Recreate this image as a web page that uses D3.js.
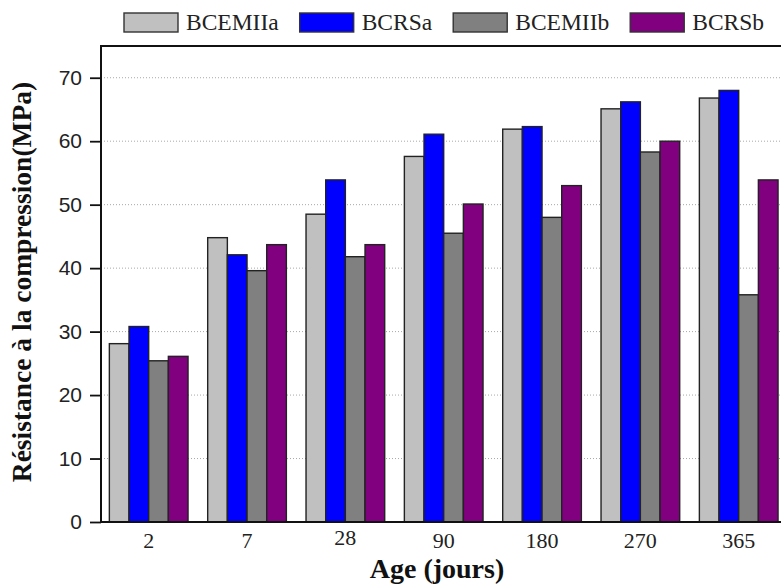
<!DOCTYPE html>
<html>
<head>
<meta charset="utf-8">
<script src="https://cdn.jsdelivr.net/npm/d3@7"></script>
<style>
  html, body { margin: 0; padding: 0; background: #fff; }
  svg { display: block; }
</style>
</head>
<body>
<svg id="chart" width="781" height="586"></svg>
<script>
// ---- data ----
const categories = ["2", "7", "28", "90", "180", "270", "365"];
const seriesNames = ["BCEMIIa", "BCRSa", "BCEMIIb", "BCRSb"];
const BCEMIIa = [28.1, 44.8, 48.5, 57.6, 61.9, 65.1, 66.8];
const BCRSa   = [30.8, 42.1, 53.9, 61.1, 62.3, 66.2, 68.0];
const BCEMIIb = [25.4, 39.6, 41.8, 45.5, 48.0, 58.3, 35.8];
const BCRSb   = [26.1, 43.7, 43.7, 50.1, 53.0, 60.0, 53.9];
const yTicks = [0, 10, 20, 30, 40, 50, 60, 70];
const seriesColors = ["#c0c0c0", "#0000ff", "#808080", "#800080"];

const seriesValues = [BCEMIIa, BCRSa, BCEMIIb, BCRSb];
const table = categories.map((c, i) => ({
  cat: c,
  values: seriesNames.map((s, k) => ({ key: s, value: seriesValues[k][i], color: seriesColors[k] }))
}));

// ---- layout ----
const svg = d3.select("#chart");
const mLeft = 101, mTop = 46, mBottom = 522, mRightEdge = 786.4;

const x = d3.scaleBand().domain(categories).range([mLeft, mRightEdge])
  .paddingInner(0.2).paddingOuter(0.085);
const xs = d3.scaleBand().domain(seriesNames).range([0, x.bandwidth()]).padding(0);
const y = d3.scaleLinear().domain([0, 75]).range([mBottom, mTop]);

// grid lines
svg.append("g").selectAll("line")
  .data(yTicks.filter(t => t > 0))
  .join("line")
  .attr("x1", mLeft).attr("x2", 800)
  .attr("y1", d => y(d)).attr("y2", d => y(d))
  .attr("stroke", "#a8a8a8").attr("stroke-width", 1)
  .attr("stroke-dasharray", "1,2");

// bars
const groups = svg.append("g").selectAll("g")
  .data(table).join("g")
  .attr("transform", d => `translate(${x(d.cat)},0)`);
groups.selectAll("rect")
  .data(d => d.values).join("rect")
  .attr("x", d => xs(d.key))
  .attr("y", d => y(d.value))
  .attr("width", xs.bandwidth())
  .attr("height", d => y(0) - y(d.value))
  .attr("fill", d => d.color)
  .attr("stroke", "#222")
  .attr("stroke-width", 1.4);

// frame
svg.append("rect")
  .attr("x", mLeft).attr("y", mTop)
  .attr("width", 720).attr("height", mBottom - mTop)
  .attr("fill", "none").attr("stroke", "#111").attr("stroke-width", 2);

// y axis
const yAxis = svg.append("g")
  .attr("transform", `translate(${mLeft},0)`)
  .call(d3.axisLeft(y).tickValues(yTicks).tickSize(11).tickPadding(8).tickSizeOuter(0));
yAxis.select(".domain").remove();
yAxis.selectAll("line").attr("stroke", "#111").attr("stroke-width", 1.8);
yAxis.selectAll("text")
  .attr("font-family", "'Liberation Sans', Arial, sans-serif")
  .attr("font-size", 21).attr("fill", "#222");

// x axis
const xAxis = svg.append("g")
  .attr("transform", `translate(0,${mBottom})`)
  .call(d3.axisBottom(x).tickSize(0).tickSizeOuter(0));
xAxis.select(".domain").remove();
xAxis.selectAll("text")
  .attr("dy", null)
  .attr("y", (d, i) => i === 2 ? 23 : 26)
  .attr("font-family", "'Liberation Serif', 'Times New Roman', serif")
  .attr("font-size", 22).attr("fill", "#222");

// axis titles
svg.append("text")
  .attr("x", 437).attr("y", 578)
  .attr("text-anchor", "middle")
  .attr("font-family", "'Liberation Serif', 'Times New Roman', serif")
  .attr("font-weight", "bold").attr("font-size", 28).attr("fill", "#111")
  .text("Age (jours)");

svg.append("text")
  .attr("transform", "translate(31,282) rotate(-90)")
  .attr("text-anchor", "middle")
  .attr("font-family", "'Liberation Serif', 'Times New Roman', serif")
  .attr("font-weight", "bold").attr("font-size", 27.5).attr("fill", "#111")
  .text("Résistance à la compression(MPa)");

// legend
const legend = svg.append("g");
let lx = 124;
seriesNames.forEach((s, k) => {
  legend.append("rect")
    .attr("x", lx).attr("y", 13).attr("width", 54).attr("height", 19)
    .attr("fill", seriesColors[k]).attr("stroke", "#333").attr("stroke-width", 1.4);
  const t = legend.append("text")
    .attr("x", lx + 62).attr("y", 29.5)
    .attr("font-family", "'Liberation Serif', 'Times New Roman', serif")
    .attr("font-size", 23.5).attr("fill", "#222")
    .text(s);
  lx = lx + 62 + t.node().getComputedTextLength() + 21;
});
</script>
</body>
</html>
